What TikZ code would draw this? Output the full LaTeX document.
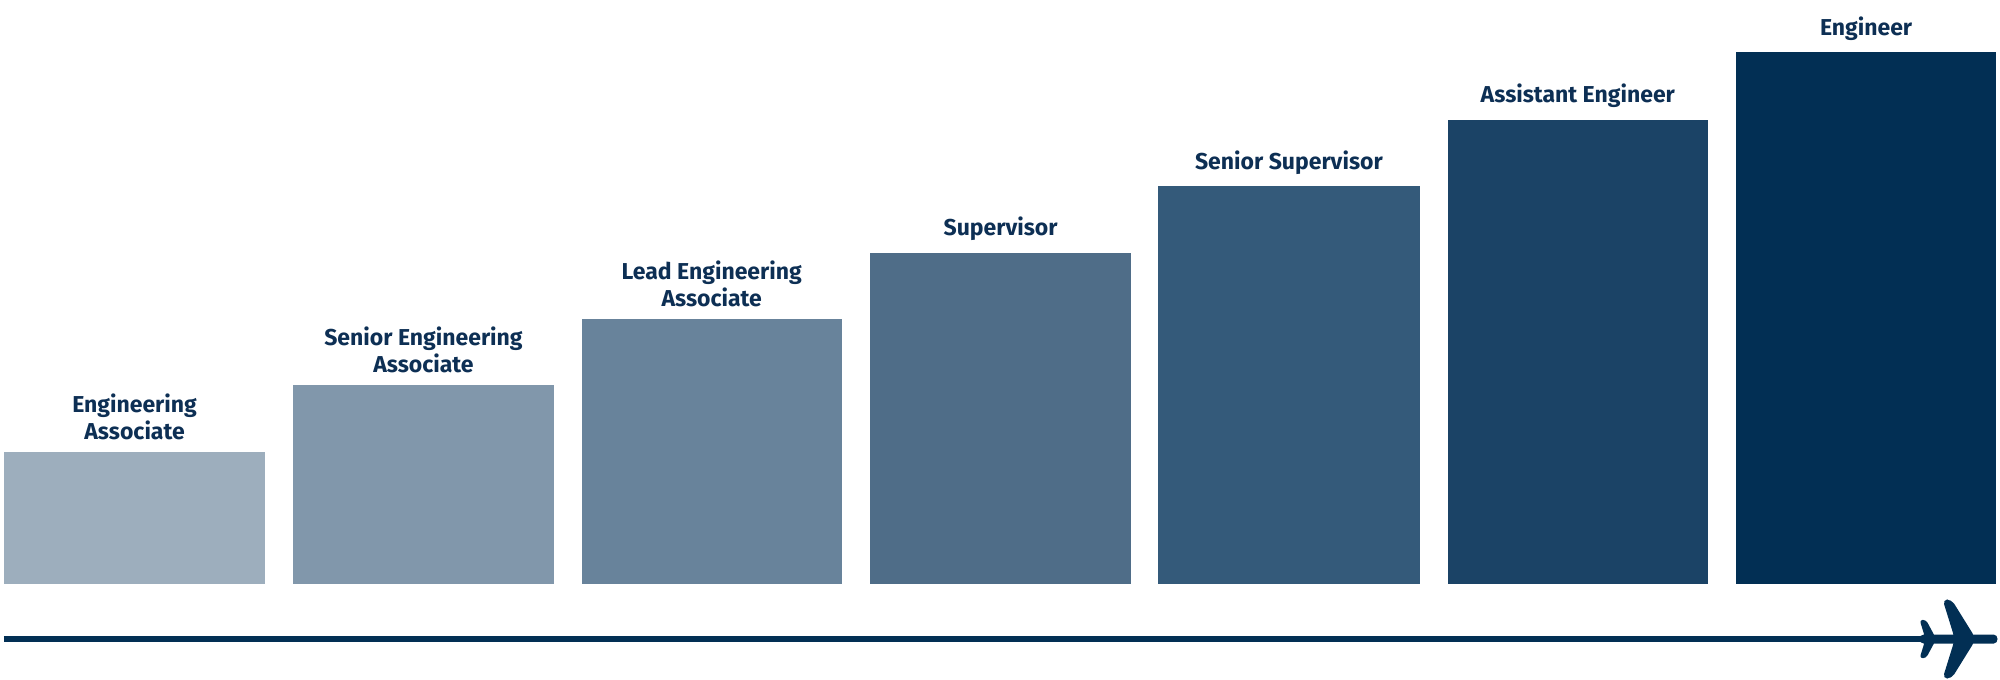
\documentclass[tikz,border=0pt]{standalone}
\usepackage{fontspec}
\setmainfont{Fira Sans}
\begin{document}
\begin{tikzpicture}[x=0.6378pt,y=-0.6378pt,
  lbl/.style={font=\bfseries\fontsize{11.5}{13.5}\selectfont, text=cN, align=center, anchor=south, inner sep=0pt},
  barbox/.style={inner sep=0pt, outer sep=0pt}]
\definecolor{c1}{HTML}{9DAEBD}\definecolor{c2}{HTML}{8197AB}\definecolor{c3}{HTML}{68839B}
\definecolor{c4}{HTML}{4F6D88}\definecolor{c5}{HTML}{345A7A}\definecolor{c6}{HTML}{1B4366}
\definecolor{c7}{HTML}{022F54}\definecolor{cN}{HTML}{0D2F54}
\useasboundingbox (0,0) rectangle (1568,533);
\foreach \i/\xa/\xb/\t/\txt in {1/3/208/354/{Engineering\\Associate},2/230/434/302/{Senior Engineering\\Associate},3/456/660/250/{Lead Engineering\\Associate},4/682/887/198/{Supervisor},5/908/1113/146/{Senior Supervisor},6/1135/1339/94/{Assistant Engineer},7/1361/1565/41/{Engineer}}{
  \fill[c\i] (\xa,\t) rectangle (\xb,458);
  \node[lbl] (l\i) at ({(\xa+\xb)/2},\t-9) {\txt};
}
\coordinate (s) at (3,501);
\coordinate (e) at (1510,501);
\draw[c7, line width=2.6pt] (s) -- (e);
\fill[c7, rounded corners=2pt] (1505,497.5) -- (1560,497.5) .. controls (1567,497.5) and (1567,504.5) .. (1560,504.5) -- (1505,504.5) -- cycle;
\fill[c7, rounded corners=2.5pt] (1523,470) -- (1530,470) -- (1548,499) -- (1548,503) -- (1530,532) -- (1523,532) -- (1532,503) -- (1532,499) -- cycle;
\fill[c7, rounded corners=1.5pt] (1505,486) -- (1510,486) -- (1517,499) -- (1517,503) -- (1510,516) -- (1505,516) -- (1509,503) -- (1509,499) -- cycle;
\end{tikzpicture}
\end{document}
